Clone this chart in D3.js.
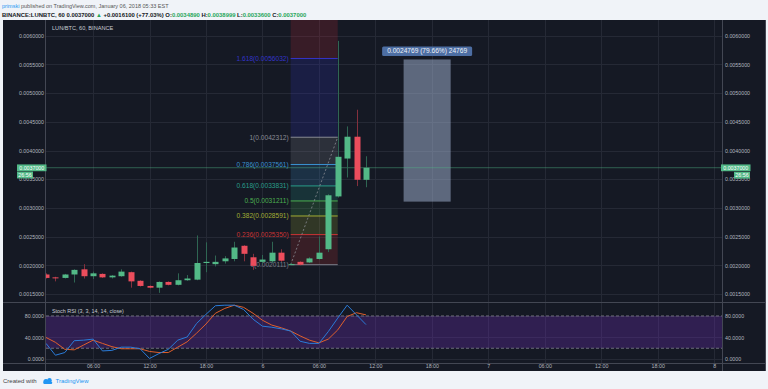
<!DOCTYPE html>
<meta charset="utf-8">
<style>
body { margin: 0; background: #f0f3f8; }
svg { display: block; font-family: 'Liberation Sans', Arial, sans-serif; }
.axis text { fill: #b2b5be; font-size: 5.3px; }
.axis .domain { display: none; }
.grid line { stroke: #252935; }
</style>
<svg id="chart" width="768" height="389"></svg>
<script src="https://cdn.jsdelivr.net/npm/d3@7"></script>
<script>

// hourly candles, LUN/BTC on Binance
const candleTimes = [
  '2018-01-05T01:00', '2018-01-05T02:00', '2018-01-05T03:00', '2018-01-05T04:00', '2018-01-05T05:00',
  '2018-01-05T06:00', '2018-01-05T07:00', '2018-01-05T08:00', '2018-01-05T09:00', '2018-01-05T10:00',
  '2018-01-05T11:00', '2018-01-05T12:00', '2018-01-05T13:00', '2018-01-05T14:00', '2018-01-05T15:00',
  '2018-01-05T16:00', '2018-01-05T17:00', '2018-01-05T18:00', '2018-01-05T19:00', '2018-01-05T20:00',
  '2018-01-05T21:00', '2018-01-05T22:00', '2018-01-05T23:00', '2018-01-06T00:00', '2018-01-06T01:00',
  '2018-01-06T02:00', '2018-01-06T03:00', '2018-01-06T04:00', '2018-01-06T05:00', '2018-01-06T06:00',
  '2018-01-06T07:00', '2018-01-06T08:00', '2018-01-06T09:00', '2018-01-06T10:00', '2018-01-06T11:00'
];
const openP  = [0.00184, 0.00179, 0.00178, 0.00184, 0.00193, 0.00181, 0.00185, 0.00179, 0.00181, 0.00188,
                0.00173, 0.00164, 0.00161, 0.00171, 0.00166, 0.00174, 0.00175, 0.00204, 0.00202, 0.00207,
                0.00211, 0.00234, 0.00214, 0.00206, 0.00207, 0.00222, 0.00201, 0.00206, 0.00205, 0.00211,
                0.00228, 0.00320, 0.00386, 0.00424, 0.0034890];
const highP  = [0.00186, 0.00180, 0.00185, 0.00193, 0.00202, 0.00189, 0.00186, 0.00183, 0.00193, 0.00189,
                0.00174, 0.00165, 0.00172, 0.00172, 0.00186, 0.00183, 0.00252, 0.00240, 0.00217, 0.00216,
                0.00241, 0.00235, 0.00220, 0.00218, 0.00241, 0.00228, 0.00204, 0.00207, 0.00214, 0.00250,
                0.00324, 0.00591, 0.00442, 0.00471, 0.0038999];
const lowP   = [0.00177, 0.00172, 0.00177, 0.00170, 0.00177, 0.00176, 0.00178, 0.00177, 0.00180, 0.00161,
                0.00163, 0.00160, 0.00152, 0.00165, 0.00165, 0.00173, 0.00174, 0.00188, 0.00198, 0.00203,
                0.00207, 0.00207, 0.00192, 0.00203, 0.00204, 0.00206, 0.0020111, 0.00200, 0.00204, 0.00210,
                0.00223, 0.00318, 0.00353, 0.00338, 0.0033600];
const closeP = [0.00178, 0.00178, 0.00184, 0.00192, 0.00181, 0.00186, 0.00179, 0.00182, 0.00189, 0.00172,
                0.00164, 0.00161, 0.00171, 0.00166, 0.00174, 0.00177, 0.00204, 0.00206, 0.00206, 0.00212,
                0.00231, 0.00220, 0.00199, 0.00210, 0.00222, 0.00208, 0.00202, 0.00201, 0.00212, 0.00222,
                0.00322, 0.00389, 0.00424, 0.00349, 0.0037000];

// Stoch RSI (3, 3, 14, 14, close)
const stochK = [29, 7, 12, 34, 35, 37, 15, 16, 22, 22, 19, 1, 10, 18, 35, 41, 66, 83, 99, 100,
                100, 92, 74, 61, 59, 56, 52, 33, 29, 29, 51, 76, 100, 82, 64];
const stochD = [40, 31, 18, 17, 26, 35, 29, 23, 19, 19, 19, 14, 12, 12, 22, 32, 48, 65, 85, 94,
                100, 96, 85, 72, 63, 58, 52, 43, 35, 30, 37, 54, 79, 86, 82];

const priceTicks = [0.0015, 0.0020, 0.0025, 0.0030, 0.0035, 0.0040, 0.0045, 0.0050, 0.0055, 0.0060];
const stochTicks = [0, 40, 80];
const timeTicks = ['2018-01-05T06:00', '2018-01-05T12:00', '2018-01-05T18:00', '2018-01-06T00:00',
                   '2018-01-06T06:00', '2018-01-06T12:00', '2018-01-06T18:00', '2018-01-07T00:00',
                   '2018-01-07T06:00', '2018-01-07T12:00', '2018-01-07T18:00', '2018-01-08T00:00'];
const timeLabels = ['06:00', '12:00', '18:00', '6', '06:00', '12:00', '18:00', '7', '06:00', '12:00', '18:00', '8'];

// fib retracement drawn on the chart
const fibRatios = [0, 0.236, 0.382, 0.5, 0.618, 0.786, 1, 1.618, 2.618];
const fibLabels = ['0(0.0020111)', '0.236(0.0025350)', '0.382(0.0028591)', '0.5(0.0031211)', '0.618(0.0033831)',
                   '0.786(0.0037561)', '1(0.0042312)', '1.618(0.0056032)', '2.618(0.0078233)'];
const fibColors = ['#787b86', '#c83434', '#a3ad34', '#4caf50', '#2a9d8a', '#3a90cf', '#8a8c94', '#3434c8', '#c62838'];
const fibLow = 0.0020111, fibHigh = 0.0042312;
const fibTimes = ['2018-01-06T03:00', '2018-01-06T08:00'];

// price range measurement
const measureTimes = ['2018-01-06T15:00', '2018-01-06T20:00'];
const measurePrices = [0.0031093, 0.0055862];
const measureLabel = '0.0024769 (79.66%) 24769';

const lastPrice = 0.0037000;

const parse = d3.utcParse('%Y-%m-%dT%H:%M');
const candles = candleTimes.map((t, i) => ({
    t: parse(t), o: openP[i], h: highP[i], l: lowP[i], c: closeP[i], k: stochK[i], d: stochD[i]
}));

const svg = d3.select('#chart');
const upColor = '#53b987', downColor = '#eb4d5c';
const upWick = '#2f6653', downWick = '#84303d';

const left = 46, right = 722,
      mainTop = 20, mainBottom = 302,
      stochTop = 302, stochBottom = 363;

const x = d3.scaleUtc()
    .domain([parse('2018-01-05T01:00'), parse('2018-01-08T00:50')])
    .range([left, right]);

const y = d3.scaleLinear()
    .domain([0.0015, 0.006])
    .range([294, 35.7]);

const yS = d3.scaleLinear()
    .domain([0, 100])
    .range([359, 305.2]);

// header
svg.append('text').attr('x', 2).attr('y', 8).attr('font-size', 5.5)
    .call(t => {
        t.append('tspan').attr('fill', '#2196f3').text('primski');
        t.append('tspan').attr('fill', '#555').text(' published on TradingView.com, January 06, 2018 05:33 EST');
    });
const h2 = svg.append('text').attr('x', 2).attr('y', 16.6).attr('font-size', 5.9)
    .attr('font-weight', 'bold').attr('fill', '#131722');
[['BINANCE:LUNBTC, 60 ', '#131722'], ['0.0037000 ', '#131722'], ['\u25B2', '#26a65b'],
 [' +0.0016100 (+77.03%) ', '#131722'], ['O:', '#131722'], ['0.0034890 ', '#26a65b'],
 ['H:', '#131722'], ['0.0038999 ', '#26a65b'], ['L:', '#131722'], ['0.0033600 ', '#26a65b'],
 ['C:', '#131722'], ['0.0037000', '#26a65b']].forEach(p => {
    h2.append('tspan').attr('fill', p[1]).text(p[0]);
});

// panel
svg.append('rect').attr('x', 3).attr('y', 20).attr('width', 763).attr('height', 351).attr('fill', '#151924');

const defs = svg.append('defs');
defs.append('clipPath').attr('id', 'clipMain').append('rect')
    .attr('x', left).attr('y', mainTop).attr('width', right - left).attr('height', mainBottom - mainTop);
defs.append('clipPath').attr('id', 'clipStoch').append('rect')
    .attr('x', left).attr('y', stochTop).attr('width', right - left).attr('height', stochBottom - stochTop);

// grid
const tickDates = timeTicks.map(parse);
const grid = svg.append('g').attr('class', 'grid');
grid.append('g').selectAll('line').data(tickDates).join('line')
    .attr('x1', d => Math.round(x(d)) + 0.5).attr('x2', d => Math.round(x(d)) + 0.5)
    .attr('y1', mainTop).attr('y2', stochBottom);
grid.append('g').selectAll('line').data(priceTicks).join('line')
    .attr('x1', left).attr('x2', right)
    .attr('y1', d => Math.round(y(d)) + 0.5).attr('y2', d => Math.round(y(d)) + 0.5);
grid.append('g').selectAll('line').data(stochTicks).join('line')
    .attr('x1', left).attr('x2', right)
    .attr('y1', d => Math.round(yS(d)) + 0.5).attr('y2', d => Math.round(yS(d)) + 0.5);

// main pane
const main = svg.append('g').attr('clip-path', 'url(#clipMain)');

const fx0 = x(parse(fibTimes[0])), fx1 = x(parse(fibTimes[1]));
const fibPrice = r => fibLow + r * (fibHigh - fibLow);
const fib = main.append('g');
fib.selectAll('rect').data(fibRatios.slice(1)).join('rect')
    .attr('x', fx0).attr('width', fx1 - fx0)
    .attr('y', (r, i) => y(fibPrice(r)))
    .attr('height', (r, i) => y(fibPrice(fibRatios[i])) - y(fibPrice(r)))
    .attr('fill', (r, i) => fibColors[i + 1]).attr('fill-opacity', 0.2);
fib.selectAll('line').data(fibRatios).join('line')
    .attr('x1', fx0).attr('x2', fx1)
    .attr('y1', r => y(fibPrice(r))).attr('y2', r => y(fibPrice(r)))
    .attr('stroke', (r, i) => fibColors[i]).attr('stroke-width', 1);
fib.selectAll('text').data(fibRatios).join('text')
    .attr('x', fx0 - 2).attr('y', r => y(fibPrice(r))).attr('dy', '0.35em')
    .attr('text-anchor', 'end').attr('font-size', 6.6)
    .attr('fill', (r, i) => fibColors[i]).text((r, i) => fibLabels[i]);
fib.append('line')
    .attr('x1', fx0).attr('y1', y(fibLow)).attr('x2', fx1).attr('y2', y(fibHigh))
    .attr('stroke', '#8a8c94').attr('stroke-dasharray', '2,2').attr('stroke-opacity', 0.8);

// measurement
const mx0 = x(parse(measureTimes[0])), mx1 = x(parse(measureTimes[1]));
main.append('rect')
    .attr('x', mx0).attr('width', mx1 - mx0)
    .attr('y', y(measurePrices[1])).attr('height', y(measurePrices[0]) - y(measurePrices[1]))
    .attr('fill', '#a5b8d6').attr('fill-opacity', 0.5);
const mlx = (mx0 + mx1) / 2, mly = y(measurePrices[1]) - 8.5;
main.append('rect').attr('x', mlx - 45).attr('y', mly - 4.5).attr('width', 90).attr('height', 9.5)
    .attr('rx', 1.5).attr('fill', '#4d6ea3');
main.append('text').attr('x', mlx).attr('y', mly).attr('dy', '0.35em')
    .attr('text-anchor', 'middle').attr('font-size', 6.6).attr('fill', '#eef2f8').text(measureLabel);

// last price line
main.append('line').attr('x1', left).attr('x2', right)
    .attr('y1', y(lastPrice)).attr('y2', y(lastPrice))
    .attr('stroke', upColor).attr('stroke-opacity', 0.45);

// candles
const bodyW = 6;
const cg = main.append('g').selectAll('g').data(candles).join('g');
cg.append('line')
    .attr('x1', d => Math.round(x(d.t)) + 0.5).attr('x2', d => Math.round(x(d.t)) + 0.5)
    .attr('y1', d => y(d.h)).attr('y2', d => y(d.l))
    .attr('stroke', d => d.c >= d.o ? upWick : downWick);
cg.append('rect')
    .attr('x', d => Math.round(x(d.t)) + 0.5 - bodyW / 2).attr('width', bodyW)
    .attr('y', d => y(Math.max(d.o, d.c)))
    .attr('height', d => Math.max(1, Math.abs(y(d.o) - y(d.c))))
    .attr('fill', d => d.c >= d.o ? upColor : downColor);

main.append('text').attr('x', 52).attr('y', 28).attr('dy', '0.35em')
    .attr('font-size', 5.6).attr('fill', '#c8cbd3').text('LUN/BTC, 60, BINANCE');

// stoch pane
const stoch = svg.append('g').attr('clip-path', 'url(#clipStoch)');
stoch.append('rect').attr('x', left).attr('width', right - left)
    .attr('y', yS(80)).attr('height', yS(20) - yS(80))
    .attr('fill', '#6a2fb0').attr('fill-opacity', 0.32);
stoch.selectAll('.band').data([80, 20]).join('line')
    .attr('x1', left).attr('x2', right)
    .attr('y1', d => yS(d)).attr('y2', d => yS(d))
    .attr('stroke', '#6c6f7a').attr('stroke-dasharray', '3,2');
const kLine = d3.line().x(d => x(d.t)).y(d => yS(d.k));
const dLine = d3.line().x(d => x(d.t)).y(d => yS(d.d));
stoch.append('path').datum(candles).attr('d', dLine)
    .attr('fill', 'none').attr('stroke', '#df5f2c').attr('stroke-width', 1);
stoch.append('path').datum(candles).attr('d', kLine)
    .attr('fill', 'none').attr('stroke', '#2a7bd8').attr('stroke-width', 1);
stoch.append('text').attr('x', 52).attr('y', 311).attr('dy', '0.35em')
    .attr('font-size', 5.4).attr('fill', '#c8cbd3').text('Stoch RSI (3, 3, 14, 14, close)');

// borders
const border = '#434753';
svg.append('g').attr('stroke', border).selectAll('line')
    .data([[left - 0.5, 20, left - 0.5, 371], [right + 0.5, 20, right + 0.5, 371], [765.5, 20, 765.5, 371],
           [3, mainBottom + 0.5, 766, mainBottom + 0.5], [3, stochBottom + 0.5, 766, stochBottom + 0.5]])
    .join('line')
    .attr('x1', d => d[0]).attr('y1', d => d[1]).attr('x2', d => d[2]).attr('y2', d => d[3]);

// axes
const fmtPrice = d3.format('.7f'), fmtStoch = d3.format('.4f');
svg.append('g').attr('class', 'axis').attr('transform', `translate(${left},0)`)
    .call(d3.axisLeft(y).tickValues(priceTicks).tickSize(0).tickPadding(2).tickFormat(fmtPrice));
svg.append('g').attr('class', 'axis').attr('transform', `translate(${right},0)`)
    .call(d3.axisRight(y).tickValues(priceTicks).tickSize(0).tickPadding(3).tickFormat(fmtPrice));
svg.append('g').attr('class', 'axis').attr('transform', `translate(${left},0)`)
    .call(d3.axisLeft(yS).tickValues(stochTicks).tickSize(0).tickPadding(2).tickFormat(fmtStoch));
svg.append('g').attr('class', 'axis').attr('transform', `translate(${right},0)`)
    .call(d3.axisRight(yS).tickValues(stochTicks).tickSize(0).tickPadding(3).tickFormat(fmtStoch));
svg.append('g').attr('class', 'axis').attr('transform', `translate(0,${stochBottom})`)
    .call(d3.axisBottom(x).tickValues(tickDates).tickSize(0).tickPadding(1.2)
        .tickFormat((d, i) => timeLabels[i]));

// last price tags
function tag(x0, w, yc, label) {
    svg.append('rect').attr('x', x0).attr('y', yc - 3.3).attr('width', w).attr('height', 6.8).attr('fill', upColor);
    svg.append('text').attr('x', x0 + w / 2).attr('y', yc).attr('dy', '0.35em').attr('text-anchor', 'middle')
        .attr('font-size', 5.3).attr('fill', '#ffffff').text(label);
}
const ly = y(lastPrice);
tag(17, 29.5, ly, fmtPrice(lastPrice));
tag(17, 16, ly + 7.2, '26:56');
tag(721, 29.5, ly, fmtPrice(lastPrice));
tag(734, 16, ly + 7.4, '26:56');

// footer
svg.append('text').attr('x', 3).attr('y', 383).attr('font-size', 6).attr('fill', '#444').text('Created with');
const logo = svg.append('g').attr('fill', '#2196f3');
logo.append('circle').attr('cx', 46).attr('cy', 381.5).attr('r', 2.6);
logo.append('circle').attr('cx', 49.5).attr('cy', 380.3).attr('r', 2.2);
logo.append('rect').attr('x', 43.4).attr('y', 381.5).attr('width', 8.8).attr('height', 2.6).attr('rx', 1);
svg.append('text').attr('x', 55.5).attr('y', 383).attr('font-size', 6).attr('fill', '#2196f3').text('TradingView');

</script>
